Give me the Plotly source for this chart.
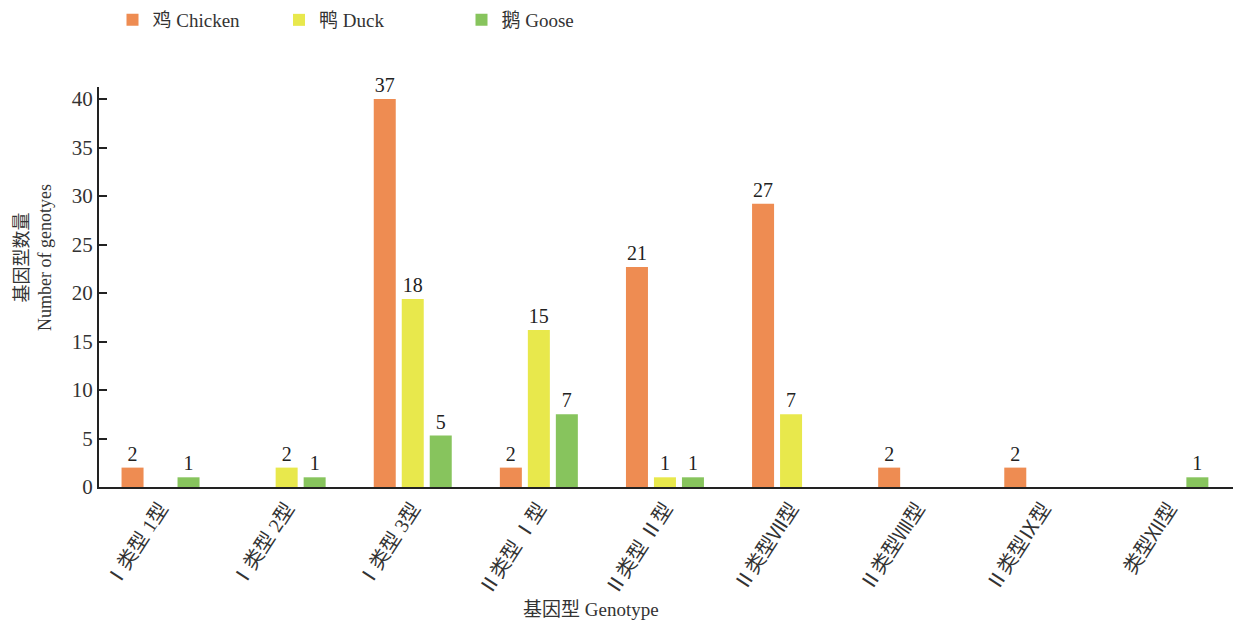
import plotly.graph_objects as go

categories = ["Ⅰ类型 1型", "Ⅰ类型 2型", "Ⅰ类型 3型", "Ⅱ类型 Ⅰ型", "Ⅱ类型 Ⅱ型",
              "Ⅱ类型Ⅶ型", "Ⅱ类型Ⅷ型", "Ⅱ类型Ⅸ型", "类型Ⅻ型"]

# bar heights as drawn in the picture
chicken_height = [2, None, 40, 2, 22.7, 29.2, 2, 2, None]
duck_height = [None, 2, 19.4, 16.2, 1, 7.5, None, None, None]
goose_height = [1, 1, 5.3, 7.5, 1, None, None, None, 1]

# printed value labels
chicken_label = ["2", "", "37", "2", "21", "27", "2", "2", ""]
duck_label = ["", "2", "18", "15", "1", "7", "", "", ""]
goose_label = ["1", "1", "5", "7", "1", "", "", "", "1"]

series_names = ["鸡 Chicken", "鸭 Duck", "鹅 Goose"]
colors = ["#EE8C52", "#E8E84C", "#87C45D"]

y_ticks = [0, 5, 10, 15, 20, 25, 30, 35, 40]

serif = "Liberation Serif, Noto Sans CJK SC, serif"
cjk = "Liberation Serif, Noto Sans CJK SC"

OFF = 8  # page body margin
W, H = 1241 - OFF, 622 - OFF
L, T, PW, PH = 99 - OFF, 87 - OFF, 1142, 400


def lx(page_x):
    return (page_x - OFF - L) / PW


def ly(page_y):
    return (T + PH - (page_y - OFF)) / PH


fig = go.Figure()
heights = [chicken_height, duck_height, goose_height]
labels = [chicken_label, duck_label, goose_label]
legends = ["legend", "legend2", "legend3"]
for name, h, lab, col, lg in zip(series_names, heights, labels, colors, legends):
    fig.add_trace(go.Bar(
        x=categories, y=h, name=name, text=lab,
        textposition="outside", cliponaxis=False,
        textfont=dict(family=serif, size=20, color="#222222"),
        marker=dict(color=col, line=dict(width=0)),
        legend=lg, showlegend=True,
    ))

legend_common = dict(orientation="h", yanchor="middle", xanchor="left",
                     font=dict(family=cjk, size=19, color="#333333"),
                     bgcolor="rgba(0,0,0,0)", itemwidth=30)

fig.update_layout(
    width=W, height=H,
    paper_bgcolor="white", plot_bgcolor="white",
    margin=dict(l=L, r=W - L - PW, t=T, b=H - T - PH, autoexpand=False),
    barmode="group", bargap=0.334, bargroupgap=0.214,
    showlegend=True,
    font=dict(family=cjk, size=17, color="#222222"),
    legend=dict(x=lx(132.5 - 20), y=ly(20), **legend_common),
    legend2=dict(x=lx(299 - 20), y=ly(20), **legend_common),
    legend3=dict(x=lx(481.5 - 20), y=ly(20), **legend_common),
    xaxis=dict(
        type="category", range=[-0.488, 8.568], automargin=False,
        showline=True, linecolor="#222222", linewidth=2,
        ticks="", tickangle=-57,
        tickfont=dict(family=cjk, size=20, color="#333333"),
        showgrid=False, zeroline=False,
    ),
    yaxis=dict(
        range=[0, 41.25], tickvals=y_ticks, automargin=False,
        showline=True, linecolor="#222222", linewidth=2,
        ticks="inside", ticklen=8, tickwidth=1.5, tickcolor="#222222",
        tickfont=dict(family=serif, size=21, color="#333333"),
        showgrid=False, zeroline=False,
    ),
    annotations=[
        dict(text="基因型 Genotype", xref="paper", yref="paper",
             x=lx(591), y=ly(609), xanchor="center", yanchor="middle",
             showarrow=False,
             font=dict(family=cjk, size=19, color="#333333")),
        dict(text="基因型数量<br>Number of genotyes", xref="paper", yref="paper",
             x=lx(33), y=ly(258), xanchor="center", yanchor="middle",
             showarrow=False, textangle=-90,
             font=dict(family=cjk, size=18, color="#333333")),
    ],
)

fig.write_html("out.html")
